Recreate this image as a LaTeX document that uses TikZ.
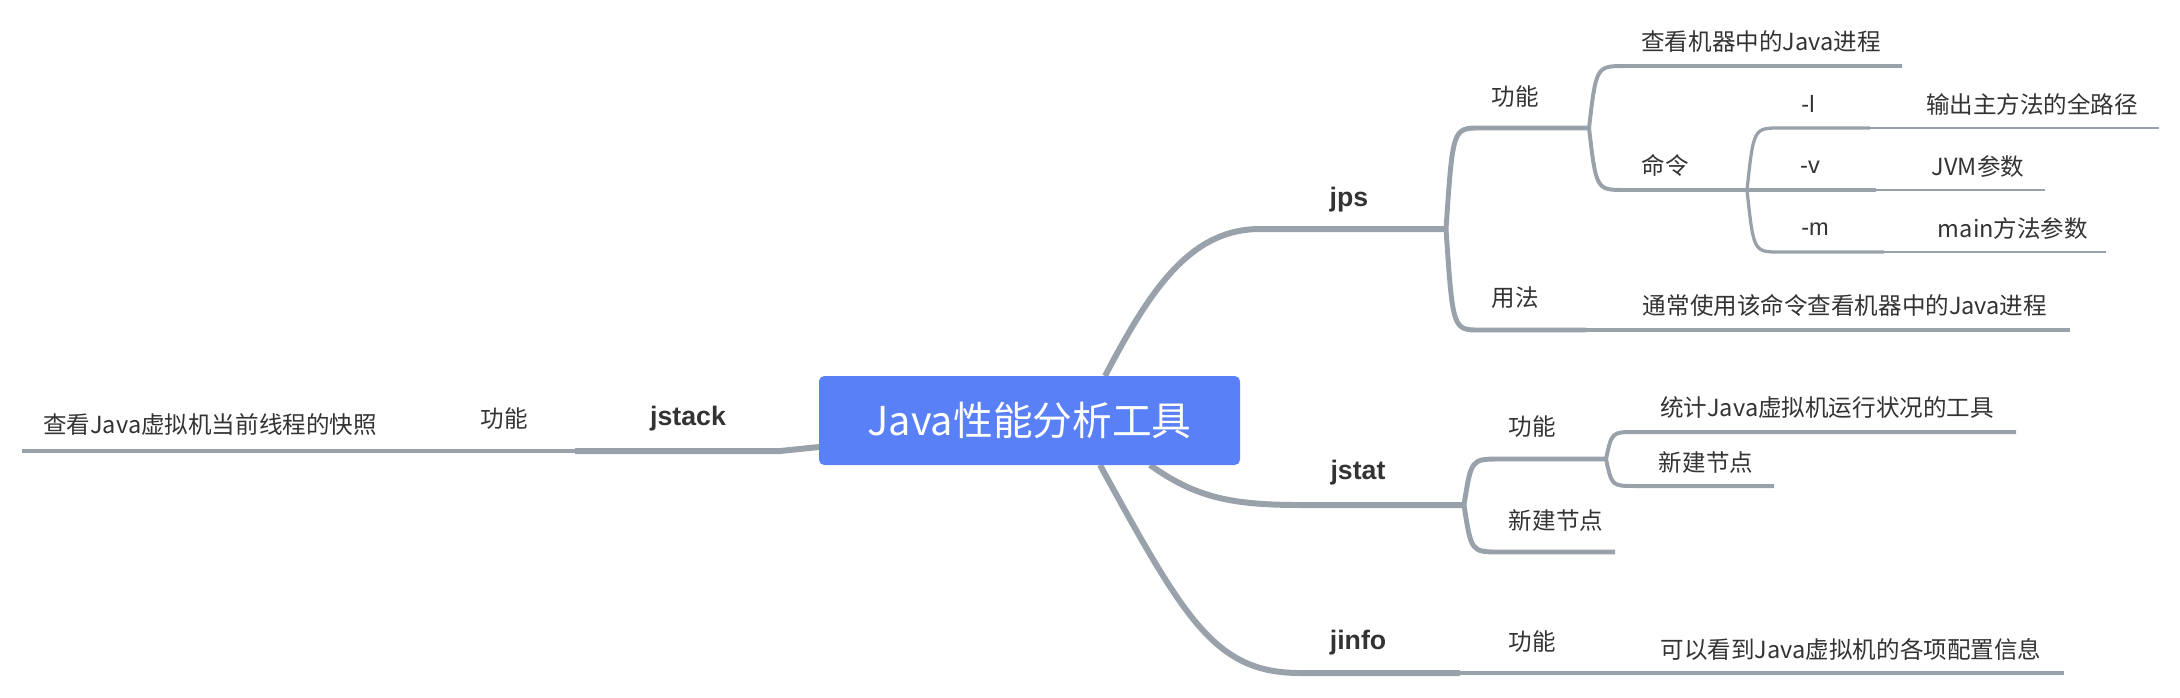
\documentclass[tikz,border=0pt]{standalone}
\usepackage{fontspec}
\setmainfont{Liberation Sans}
\newfontfamily\cjk{Noto Sans CJK SC}
\usetikzlibrary{calc}
\definecolor{rootCol}{HTML}{5A80F7}
\definecolor{lineCol}{HTML}{99A1AA}
\definecolor{txtCol}{HTML}{333333}
\tikzset{
  root/.style={fill=rootCol, rounded corners=1.5pt, text=white, inner sep=0pt,
               font=\cjk\fontsize{11.3}{13}\selectfont, minimum width=42.1mm, minimum height=8.9mm},
  main/.style={font=\bfseries\fontsize{7.6}{9}\selectfont, text=txtCol, inner sep=0pt},
  sub/.style={font=\cjk\fontsize{6.7}{8}\selectfont, text=txtCol, inner sep=0pt},
  opt/.style={font=\fontsize{6.7}{8}\selectfont, text=txtCol, inner sep=0pt},
  lv1/.style={draw=lineCol, line width=1.7pt},   % root -> tool
  lv2/.style={draw=lineCol, line width=1.4pt},
  lv3/.style={draw=lineCol, line width=1.13pt},
  lv4/.style={draw=lineCol, line width=0.93pt},
  lv5/.style={draw=lineCol, line width=0.6pt},
}
% parent branch point, child start, child end
\newcommand{\elbow}[4]{\draw[#1] (#2) .. controls ($(#3-|#2)!0.2!(#3)$) .. (#3) -- (#4);}

\begin{document}
\begin{tikzpicture}[x=0.1mm,y=-0.1mm]
  \useasboundingbox (0,0) rectangle (2180,697);

  % underline ends
  \coordinate (r-jps) at (1105,376);   \coordinate (r-jstat) at (1150,465);
  \coordinate (r-jinfo) at (1100,465); \coordinate (r-jstack) at (819,447);
  \coordinate (jps-a) at (1260,229);   \coordinate (jps-b) at (1446,229);
  \coordinate (jstat-a) at (1300,505); \coordinate (jstat-b) at (1464,505);
  \coordinate (jinfo-a) at (1300,673); \coordinate (jinfo-b) at (1460,673);
  \coordinate (jstack-a) at (780,451); \coordinate (jstack-b) at (575,451);
  \coordinate (jpsFn-a) at (1480,128);    \coordinate (jpsFn-b) at (1589,128);
  \coordinate (jpsUse-a) at (1480,330);   \coordinate (jpsUse-b) at (1586,330);
  \coordinate (jpsView-a) at (1625,66);   \coordinate (jpsView-b) at (1902,66);
  \coordinate (jpsCmd-a) at (1625,190);   \coordinate (jpsCmd-b) at (1747,190);
  \coordinate (jpsUseTxt-b) at (2070,330);
  \coordinate (optL-a) at (1780,128);     \coordinate (optL-b) at (1870,128);
  \coordinate (optV-b) at (1876,190);
  \coordinate (optM-a) at (1780,252);     \coordinate (optM-b) at (1884,252);
  \coordinate (optLtxt-b) at (2159,128);
  \coordinate (optVtxt-b) at (2045,190);
  \coordinate (optMtxt-b) at (2106,252);
  \coordinate (jstatFn-a) at (1500,459);  \coordinate (jstatFn-b) at (1606,459);
  \coordinate (jstatNew-a) at (1500,552); \coordinate (jstatNew-b) at (1615,552);
  \coordinate (jstatDesc-a) at (1635,432);  \coordinate (jstatDesc-b) at (2016,432);
  \coordinate (jstatFnNew-a) at (1635,486); \coordinate (jstatFnNew-b) at (1774,486);
  \coordinate (jinfoFn-b) at (1604,673);  \coordinate (jinfoDesc-b) at (2064,673);
  \coordinate (jstackFn-b) at (434,451);  \coordinate (jstackDesc-b) at (22,451);

  % branches
  \draw[lv1] (r-jps) .. controls (1150,290) and (1190,229) .. (jps-a) -- (jps-b);
  \draw[lv1] (r-jstat) .. controls (1195,497) and (1230,505) .. (jstat-a) -- (jstat-b);
  \draw[lv1] (r-jinfo) .. controls (1185,620) and (1215,673) .. (jinfo-a) -- (jinfo-b);
  \draw[lv1] (r-jstack) -- (jstack-a) -- (jstack-b);

  \elbow{lv2}{jps-b}{jpsFn-a}{jpsFn-b}
  \elbow{lv2}{jps-b}{jpsUse-a}{jpsUse-b}
  \elbow{lv2}{jstat-b}{jstatFn-a}{jstatFn-b}
  \elbow{lv2}{jstat-b}{jstatNew-a}{jstatNew-b}
  \draw[lv2] (jinfo-b) -- (jinfoFn-b);
  \draw[lv2] (jstack-b) -- (jstackFn-b);

  \elbow{lv3}{jpsFn-b}{jpsView-a}{jpsView-b}
  \elbow{lv3}{jpsFn-b}{jpsCmd-a}{jpsCmd-b}
  \draw[lv3] (jpsUse-b) -- (jpsUseTxt-b);
  \elbow{lv3}{jstatFn-b}{jstatDesc-a}{jstatDesc-b}
  \elbow{lv3}{jstatFn-b}{jstatFnNew-a}{jstatFnNew-b}
  \draw[lv3] (jinfoFn-b) -- (jinfoDesc-b);
  \draw[lv3] (jstackFn-b) -- (jstackDesc-b);

  \elbow{lv4}{jpsCmd-b}{optL-a}{optL-b}
  \draw[lv4] (jpsCmd-b) -- (optV-b);
  \elbow{lv4}{jpsCmd-b}{optM-a}{optM-b}
  \draw[lv5] (optL-b) -- (optLtxt-b);
  \draw[lv5] (optV-b) -- (optVtxt-b);
  \draw[lv5] (optM-b) -- (optMtxt-b);

  % topics
  \node[root] (root) at (1029.5,420.5) {Java性能分析工具};
  \node[main] (jps) at (1349,200) {jps};
  \node[main] (jstat) at (1358,473) {jstat};
  \node[main] (jinfo) at (1358,643) {jinfo};
  \node[main] (jstack) at (688,419) {jstack};

  \node[sub] (jpsFn) at (1515,97) {功能};
  \node[sub] (jpsUse) at (1515,298) {用法};
  \node[sub] (jpsView) at (1761,42) {查看机器中的Java进程};
  \node[sub] (jpsCmd) at (1665,165) {命令};
  \node[opt] (optL) at (1808,104) {-l};
  \node[opt] (optV) at (1810,167) {-v};
  \node[opt] (optM) at (1815,229) {-m};
  \node[sub] (optLtxt) at (2032,104) {输出主方法的全路径};
  \node[sub] (optVtxt) at (1978,167) {JVM参数};
  \node[sub] (optMtxt) at (2013,229) {main方法参数};
  \node[sub] (jpsUseTxt) at (1845,305) {通常使用该命令查看机器中的Java进程};

  \node[sub] (jstatFn) at (1532,427) {功能};
  \node[sub] (jstatNew) at (1556,520) {新建节点};
  \node[sub] (jstatDesc) at (1827,408) {统计Java虚拟机运行状况的工具};
  \node[sub] (jstatFnNew) at (1706,462) {新建节点};

  \node[sub] (jinfoFn) at (1532,642) {功能};
  \node[sub] (jinfoDesc) at (1851,649) {可以看到Java虚拟机的各项配置信息};

  \node[sub] (jstackFn) at (504,419) {功能};
  \node[sub] (jstackDesc) at (210,425) {查看Java虚拟机当前线程的快照};
\end{tikzpicture}
\end{document}
